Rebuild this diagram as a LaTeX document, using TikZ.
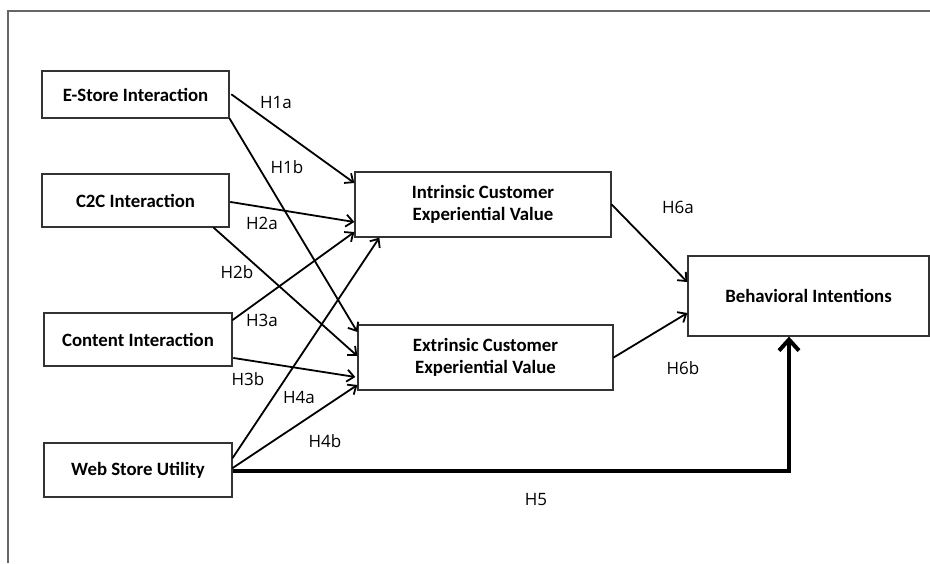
\documentclass[tikz,border=0pt]{standalone}
\usepackage{fontspec}
\setmainfont{Carlito}
\newfontfamily\hypfont{Open Sans}
\usetikzlibrary{arrows.meta}
\begin{document}
\begin{tikzpicture}[x=1pt,y=-1pt,
  box/.style={draw=black!80, line width=1.3pt, fill=white, inner sep=0pt,
    align=center, font=\fontsize{18.8}{22}\selectfont\bfseries},
  link/.style={line width=1.8pt, line cap=round,
    -{Straight Barb[length=7pt,width=12pt]}},
  mainlink/.style={line width=4pt,
    -{Straight Barb[length=11pt,width=20pt]}},
  hyp/.style={inner sep=0pt, font=\hypfont\fontsize{17}{20}\selectfont},
  frame/.style={draw=black!60, line width=1.6pt}]

\useasboundingbox (0,0) rectangle (930,563);

% open frame along the top and left edges
\draw[frame] (8,563) -- (8,11) -- (930,11);

% antecedent constructs
\node[box, minimum width=187pt, minimum height=47pt] (estore)  at (135.5,94.5)  {E-Store Interaction};
\node[box, minimum width=187pt, minimum height=53pt] (c2c)     at (135.5,200.5) {C2C Interaction};
\node[box, minimum width=188pt, minimum height=53pt] (content) at (138,339.5)   {Content Interaction};
\node[box, minimum width=188pt, minimum height=54pt] (web)     at (138,470)     {Web Store Utility};

% mediating constructs
\node[box, minimum width=256pt, minimum height=65pt] (intr) at (483,204.5)   {Intrinsic Customer\\Experiential Value};
\node[box, minimum width=255pt, minimum height=65pt] (extr) at (485.5,357.5) {Extrinsic Customer\\Experiential Value};

% outcome
\node[box, minimum width=241pt, minimum height=80pt] (beh) at (808.5,296) {Behavioral Intentions};

% hypothesised paths
\draw[link] ([xshift=2pt]estore.east) -- ([yshift=21.5pt]intr.west);
\draw[link] (estore.south east) -- ([yshift=25.5pt]extr.west);
\draw[link] ([xshift=1pt,yshift=-1.5pt]c2c.east) -- ([yshift=-17.5pt]intr.west);
\draw[link] ([xshift=-16pt]c2c.south east) -- ([yshift=1.5pt]extr.west);
\draw[link] ([yshift=19.5pt]content.east) -- ([yshift=-27.5pt]intr.west);
\draw[link] ([xshift=1pt,yshift=-18.5pt]content.east) -- ([xshift=-2pt,yshift=-19.5pt]extr.west);
\draw[link] ([yshift=12pt]web.east) -- ([xshift=25pt]intr.south west);
\draw[link] ([yshift=2pt]web.east) -- ([yshift=-27.5pt]extr.west);
\draw[link] (intr.east) -- ([yshift=14pt]beh.west);
\draw[link] (extr.east) -- ([yshift=-17pt]beh.west);
\draw[mainlink] ([yshift=-1pt]web.east) -| ([xshift=-19.5pt]beh.south);

% path labels
\node[hyp] (h1a) at (276,103) {H1a};
\node[hyp] (h1b) at (287,167) {H1b};
\node[hyp] (h2a) at (262,223) {H2a};
\node[hyp] (h2b) at (237,272) {H2b};
\node[hyp] (h3a) at (262,320) {H3a};
\node[hyp] (h3b) at (248,379) {H3b};
\node[hyp] (h4a) at (299,397) {H4a};
\node[hyp] (h4b) at (325,441) {H4b};
\node[hyp] (h6a) at (678,207) {H6a};
\node[hyp] (h6b) at (683,368) {H6b};
\node[hyp] (h5)  at (536,500) {H5};
\end{tikzpicture}
\end{document}
